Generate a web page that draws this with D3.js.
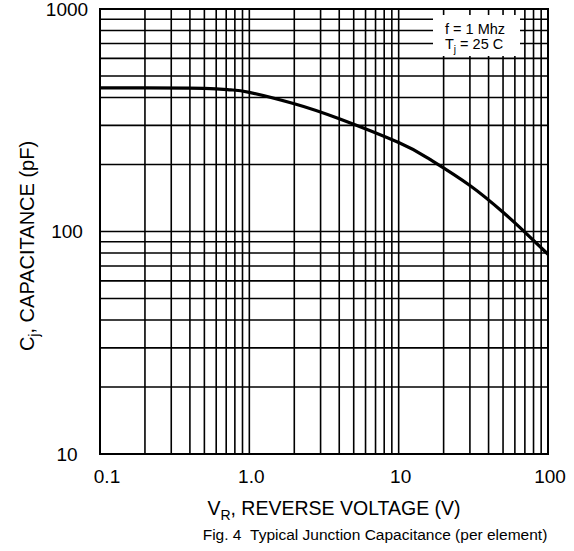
<!DOCTYPE html>
<html>
<head>
<meta charset="utf-8">
<script src="https://cdn.jsdelivr.net/npm/d3@7"></script>
<style>
body { margin: 0; background: #fff; }
text { font-family: "Liberation Sans", Arial, sans-serif; fill: #000; }
</style>
</head>
<body>
<script>
// reverse voltage (V) and junction capacitance (pF)
var voltage = [0.1, 0.2, 0.5, 0.75, 1.0, 2.0, 4.0, 10, 16, 30, 50, 65, 100];
var capacitance = [442, 442, 440, 433, 422, 375, 321, 251, 212, 161, 122, 104, 79];

var xTickLabels = ["0.1", "1.0", "10", "100"];
var yTickLabels = ["10", "100", "1000"];

var width = 574, height = 551;
var plotLeft = 100, plotRight = 548, plotTop = 9, plotBottom = 454;

var svg = d3.select("body")
    .append("svg")
    .attr("width", width)
    .attr("height", height);

var x = d3.scaleLog()
    .domain([0.1, 100])
    .range([plotLeft, plotRight]);

var y = d3.scaleLog()
    .domain([10, 1000])
    .range([plotBottom, plotTop]);

// grid, one line per 1..9 step of every decade
svg.append("g")
    .selectAll("line")
    .data(x.ticks())
    .enter()
    .append("line")
    .attr("x1", function (d) { return x(d); })
    .attr("x2", function (d) { return x(d); })
    .attr("y1", plotTop)
    .attr("y2", plotBottom)
    .attr("stroke", "#000")
    .attr("stroke-width", 1.6);

svg.append("g")
    .selectAll("line")
    .data(y.ticks())
    .enter()
    .append("line")
    .attr("x1", plotLeft)
    .attr("x2", plotRight)
    .attr("y1", function (d) { return y(d); })
    .attr("y2", function (d) { return y(d); })
    .attr("stroke", "#000")
    .attr("stroke-width", 1.6);

svg.append("rect")
    .attr("x", plotLeft)
    .attr("y", plotTop)
    .attr("width", plotRight - plotLeft)
    .attr("height", plotBottom - plotTop)
    .attr("fill", "none")
    .attr("stroke", "#000")
    .attr("stroke-width", 2);

// the curve
var line = d3.line()
    .x(function (d, i) { return x(voltage[i]); })
    .y(function (d, i) { return y(capacitance[i]); })
    .curve(d3.curveNatural);

svg.append("path")
    .datum(voltage)
    .attr("d", line)
    .attr("fill", "none")
    .attr("stroke", "#000")
    .attr("stroke-width", 3.2);

// conditions box
svg.append("rect")
    .attr("x", 433)
    .attr("y", 15)
    .attr("width", 87)
    .attr("height", 41)
    .attr("fill", "#fff");

svg.append("text")
    .attr("x", 445)
    .attr("y", 34)
    .attr("font-size", 14.5)
    .text("f = 1 Mhz");

var tj = svg.append("text")
    .attr("x", 445)
    .attr("y", 49)
    .attr("font-size", 14.5);
tj.append("tspan").text("T");
tj.append("tspan").attr("font-size", 10).attr("dy", 4).text("j");
tj.append("tspan").attr("dy", -4).text(" = 25 C");

// tick labels
svg.append("g")
    .selectAll("text")
    .data(xTickLabels)
    .enter()
    .append("text")
    .attr("x", function (d) { return x(+d) + (d == "0.1" ? 7 : 2); })
    .attr("y", 483)
    .attr("text-anchor", "middle")
    .attr("font-size", 19)
    .text(function (d) { return d; });

svg.append("g")
    .selectAll("text")
    .data(yTickLabels)
    .enter()
    .append("text")
    .attr("x", 67)
    .attr("y", function (d) { return y(+d); })
    .attr("dy", "0.35em")
    .attr("text-anchor", "middle")
    .attr("font-size", 19)
    .text(function (d) { return d; });

// axis titles
var xt = svg.append("text")
    .attr("x", 334)
    .attr("y", 515)
    .attr("text-anchor", "middle")
    .attr("font-size", 19.5);
xt.append("tspan").text("V");
xt.append("tspan").attr("font-size", 14).attr("dy", 5).text("R");
xt.append("tspan").attr("dy", -5).text(", REVERSE VOLTAGE (V)");

var yt = svg.append("text")
    .attr("transform", "translate(34," + 246 + ") rotate(-90)")
    .attr("text-anchor", "middle")
    .attr("font-size", 20);
yt.append("tspan").text("C");
yt.append("tspan").attr("font-size", 14).attr("dy", 5).text("j");
yt.append("tspan").attr("dy", -5).text(", CAPACITANCE (pF)");

svg.append("text")
    .attr("x", 375)
    .attr("y", 540)
    .attr("text-anchor", "middle")
    .attr("font-size", 15.5)
    .text("Fig. 4\u00a0\u00a0Typical Junction Capacitance (per element)");
</script>
</body>
</html>
